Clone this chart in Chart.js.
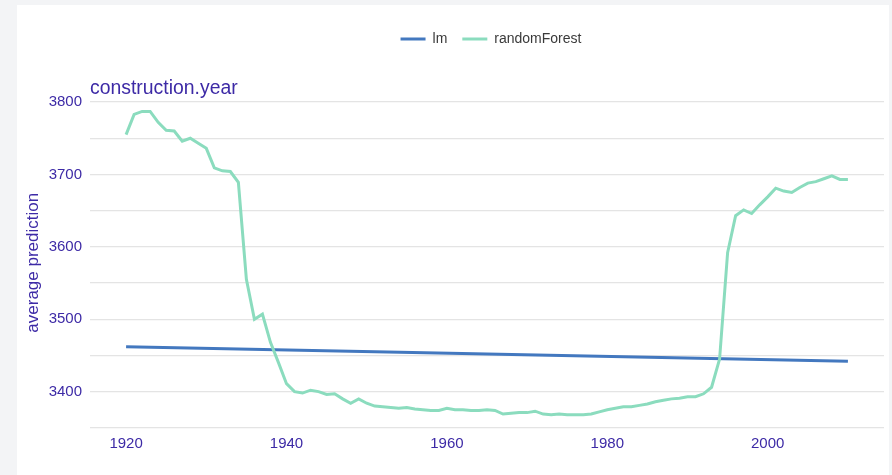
<!DOCTYPE html>
<html>
<head>
<meta charset="utf-8">
<script src="https://cdn.jsdelivr.net/npm/chart.js@4/dist/chart.umd.min.js"></script>
<style>
  html, body { margin: 0; padding: 0; background: #f3f4f6; width: 892px; height: 475px; overflow: hidden; }
  #wrap { position: absolute; left: 17px; top: 5px; width: 872px; height: 470px; background: #ffffff; }
  canvas { display: block; }
</style>
</head>
<body>
<div id="wrap"><canvas id="chart" width="872" height="470"></canvas></div>
<script>
// Partial dependence of the average prediction on construction.year
const years = [
  1920, 1921, 1922, 1923, 1924, 1925, 1926, 1927, 1928, 1929,
  1930, 1931, 1932, 1933, 1934, 1935, 1936, 1937, 1938, 1939,
  1940, 1941, 1942, 1943, 1944, 1945, 1946, 1947, 1948, 1949,
  1950, 1951, 1952, 1953, 1954, 1955, 1956, 1957, 1958, 1959,
  1960, 1961, 1962, 1963, 1964, 1965, 1966, 1967, 1968, 1969,
  1970, 1971, 1972, 1973, 1974, 1975, 1976, 1977, 1978, 1979,
  1980, 1981, 1982, 1983, 1984, 1985, 1986, 1987, 1988, 1989,
  1990, 1991, 1992, 1993, 1994, 1995, 1996, 1997, 1998, 1999,
  2000, 2001, 2002, 2003, 2004, 2005, 2006, 2007, 2008, 2009,
  2010
];
const randomForestValues = [
  3755, 3783, 3787, 3787, 3772, 3761, 3760, 3746, 3750, 3743,
  3736, 3709, 3705, 3704, 3689, 3555, 3500, 3507, 3468, 3440,
  3411, 3400, 3398, 3402, 3400, 3396, 3397, 3390, 3384, 3390,
  3384, 3380, 3379, 3378, 3377, 3378, 3376, 3375, 3374, 3374,
  3377, 3375, 3375, 3374, 3374, 3375, 3374, 3369, 3370, 3371,
  3371, 3373, 3369, 3368, 3369, 3368, 3368, 3368, 3369, 3372,
  3375, 3377, 3379, 3379, 3381, 3383, 3386, 3388, 3390, 3391,
  3393, 3393, 3397, 3406, 3445, 3592, 3643, 3651, 3646, 3658,
  3669, 3681, 3677, 3675, 3682, 3688, 3690, 3694, 3698, 3693,
  3693
];
// the linear model gives a straight line between its end points
const lmYears = [1920, 2010];
const lmValues = [3462, 3442];

const seriesNames = ['lm', 'randomForest'];
const xTickLabels = [1920, 1940, 1960, 1980, 2000];
const yGridValues = [3350, 3400, 3450, 3500, 3550, 3600, 3650, 3700, 3750, 3800];
const yTickLabels = [3400, 3500, 3600, 3700, 3800];
const panelTitle = 'construction.year';
const yAxisTitle = 'average prediction';

const INK = '#3d2aa6';
const FONT = '"Liberation Sans", Arial, Helvetica, sans-serif';

const toPoints = (xs, ys) => xs.map((x, i) => ({ x: x, y: ys[i] }));

// nudge the legend row a little to the right of the centred position
const legendNudge = {
  id: 'legendNudge',
  afterLayout(chart) {
    if (chart.legend) {
      chart.legend.left += 4;
      chart.legend.right += 4;
    }
  }
};

new Chart(document.getElementById('chart'), {
  type: 'line',
  plugins: [legendNudge],
  data: {
    datasets: [
      {
        label: seriesNames[0],
        data: toPoints(lmYears, lmValues),
        borderColor: '#4378bf',
        backgroundColor: '#4378bf',
        borderWidth: 3,
        pointRadius: 0,
        tension: 0,
        order: 1
      },
      {
        label: seriesNames[1],
        data: toPoints(years, randomForestValues),
        borderColor: '#8bdcbe',
        backgroundColor: '#8bdcbe',
        borderWidth: 3,
        pointRadius: 0,
        tension: 0,
        order: 0
      }
    ]
  },
  options: {
    responsive: false,
    animation: false,
    layout: { padding: { top: 12, right: 5, bottom: 0, left: 0 } },
    plugins: {
      tooltip: { enabled: false },
      legend: {
        position: 'top',
        fullSize: false,
        weight: 3000,
        labels: {
          usePointStyle: true,
          pointStyle: 'line',
          pointStyleWidth: 25,
          boxWidth: 25,
          padding: 15,
          color: '#3a3a3a',
          font: { family: FONT, size: 14 },
          sort: (a, b) => a.datasetIndex - b.datasetIndex
        }
      },
      title: {
        display: true,
        text: panelTitle,
        position: 'top',
        align: 'start',
        fullSize: false,
        color: INK,
        font: { family: FONT, size: 19.4, weight: 'normal', lineHeight: '14px' },
        padding: { top: 25.5, bottom: 0 }
      }
    },
    scales: {
      x: {
        type: 'linear',
        min: 1915.5,
        max: 2014.5,
        afterBuildTicks: (scale) => { scale.ticks = xTickLabels.map(v => ({ value: v })); },
        afterFit: (scale) => { scale.height = 45; },
        grid: { display: false, drawTicks: false },
        border: { display: false },
        ticks: {
          color: INK,
          padding: 5,
          maxRotation: 0,
          autoSkip: false,
          font: { family: FONT, size: 15 },
          callback: (v) => String(v)
        }
      },
      y: {
        type: 'linear',
        min: 3347,
        max: 3809,
        afterBuildTicks: (scale) => { scale.ticks = yGridValues.map(v => ({ value: v })); },
        afterFit: (scale) => { scale.width = 73; },
        grid: { color: '#e4e4e4', lineWidth: 1.3, drawTicks: false },
        border: { display: false },
        title: {
          display: true,
          text: yAxisTitle,
          color: INK,
          font: { family: FONT, size: 17 },
          padding: { top: 6, bottom: 0 }
        },
        ticks: {
          color: INK,
          padding: 8,
          autoSkip: false,
          font: { family: FONT, size: 15 },
          callback: (v) => (yTickLabels.includes(v) ? String(v) : '')
        }
      }
    }
  }
});
</script>
</body>
</html>
